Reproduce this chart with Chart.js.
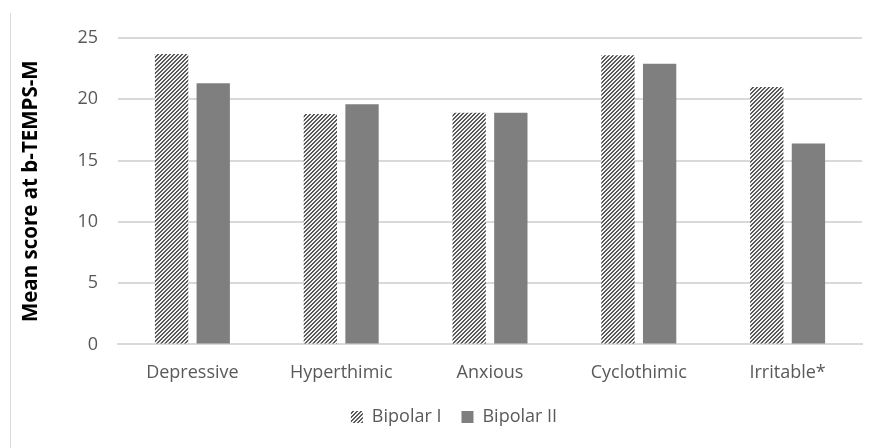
<!DOCTYPE html>
<html>
<head>
<meta charset="utf-8">
<script src="https://cdn.jsdelivr.net/npm/chart.js@4"></script>
<style>
  html, body { margin: 0; padding: 0; background: #fff; }
  #wrap { position: relative; width: 876px; height: 448px; }
  #frame { position: absolute; left: 10px; top: 13px; bottom: 0; border-left: 1px solid #d9d9d9; }
</style>
</head>
<body>
<div id="wrap">
  <div id="frame"></div>
  <canvas id="tempsChart" width="876" height="448"></canvas>
</div>
<script>
const categories = ['Depressive', 'Hyperthimic', 'Anxious', 'Cyclothimic', 'Irritable*'];
const bipolarI = [23.7, 18.8, 18.9, 23.6, 21.0];
const bipolarII = [21.3, 19.6, 18.9, 22.9, 16.4];
const yTicks = [0, 5, 10, 15, 20, 25];

// wide upward diagonal hatch, like the Excel pattern fill
function makeHatch() {
    const c = document.createElement('canvas');
    c.width = 4;
    c.height = 4;
    const g = c.getContext('2d');
    g.fillStyle = '#f4f4f4';
    g.fillRect(0, 0, 4, 4);
    g.fillStyle = '#595959';
    for (let i = 0; i < 4; i++) {
        g.fillRect(i, 3 - i, 1, 1);
        g.fillRect((i + 1) % 4, 3 - i, 1, 1);
    }
    return g.createPattern(c, 'repeat');
}

// move the legend a bit, the label padding alone can't place it like the original
const legendNudge = {
    id: 'legendNudge',
    afterLayout(chart) {
        const lg = chart.legend;
        lg.top -= 14;
        lg.bottom -= 14;
        lg.left += 17;
        lg.right += 17;
    }
};

const hatch = makeHatch();
const ctx = document.getElementById('tempsChart').getContext('2d');

new Chart(ctx, {
    type: 'bar',
    data: {
        labels: categories,
        datasets: [{
            label: 'Bipolar I',
            data: bipolarI,
            backgroundColor: hatch,
            borderWidth: 0,
        }, {
            label: 'Bipolar II',
            data: bipolarII,
            backgroundColor: '#7f7f7f',
            borderWidth: 0,
        }]
    },
    options: {
        responsive: false,
        animation: false,
        categoryPercentage: 0.56,
        barPercentage: 0.8,
        layout: {
            padding: { left: 12, right: 14, top: 38, bottom: -2 }
        },
        scales: {
            x: {
                grid: { display: false, drawTicks: false },
                border: { color: '#d9d9d9', width: 2 },
                ticks: {
                    color: '#595959',
                    padding: 18,
                    font: { family: 'Open Sans', size: 18 }
                }
            },
            y: {
                min: 0,
                max: 25,
                afterBuildTicks: s => { s.ticks = yTicks.map(v => ({ value: v })); },
                afterFit: s => { s.width = 106; },
                grid: { color: '#d9d9d9', lineWidth: 2, drawTicks: false },
                border: { display: false },
                ticks: {
                    color: '#595959',
                    padding: 20,
                    font: { family: 'Open Sans', size: 18 }
                },
                title: {
                    display: true,
                    text: 'Mean score at b-TEMPS-M',
                    color: '#000',
                    padding: { top: 7, bottom: 0 },
                    font: { family: 'Open Sans', size: 20.5, weight: 'bold' }
                }
            }
        },
        plugins: {
            legend: {
                position: 'bottom',
                labels: {
                    color: '#595959',
                    boxWidth: 12,
                    boxHeight: 12,
                    padding: 20,
                    font: { family: 'Open Sans', size: 18 }
                }
            },
            tooltip: { enabled: false }
        }
    },
    plugins: [legendNudge]
});
</script>
</body>
</html>
